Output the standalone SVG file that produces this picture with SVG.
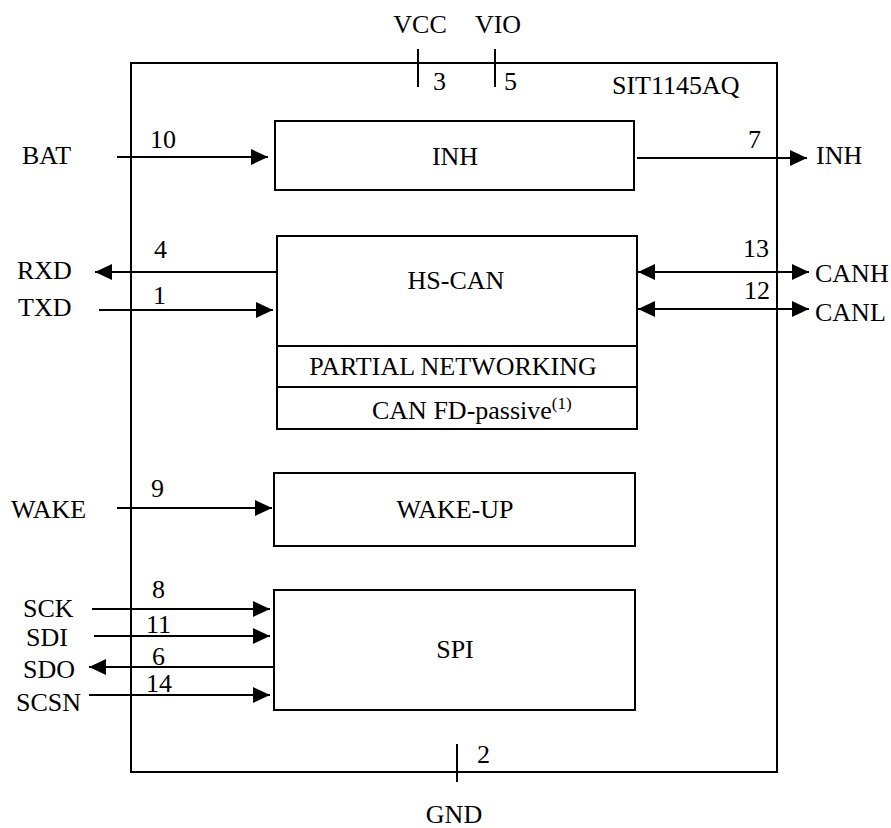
<svg xmlns="http://www.w3.org/2000/svg" width="891" height="828" viewBox="0 0 891 828">
<style>
text{font-family:"Liberation Serif","Times New Roman",serif;font-size:26px;fill:#000}
.m{text-anchor:middle}
.box{fill:none;stroke:#000;stroke-width:2}
.w{stroke:#000;stroke-width:2;fill:none}
.a{marker-end:url(#ah)}
.d{marker-start:url(#ah);marker-end:url(#ah)}
</style>
<defs>
<marker id="ah" markerUnits="userSpaceOnUse" markerWidth="17" markerHeight="16" refX="17" refY="8" orient="auto-start-reverse">
<path d="M0,0 L17,8 L0,16 Z" fill="#000"/>
</marker>
</defs>
<rect width="891" height="828" fill="#fff"/>
<g id="chip">
<rect class="box" x="131" y="63" width="646" height="709"/>
<text x="612" y="94">SIT1145AQ</text>
</g>
<g id="inh">
<rect class="box" x="275" y="121" width="359" height="69"/>
<text class="m" x="455" y="165">INH</text>
</g>
<g id="hscan">
<rect class="box" x="277" y="236" width="360" height="193"/>
<line class="w" x1="277" y1="346" x2="637" y2="346"/>
<line class="w" x1="277" y1="387" x2="637" y2="387"/>
<text class="m" x="456" y="289">HS-CAN</text>
<text class="m" x="453" y="375">PARTIAL NETWORKING</text>
<text x="372" y="419">CAN FD-passive<tspan font-size="17" dy="-10">(1)</tspan></text>
</g>
<g id="wakeup">
<rect class="box" x="274" y="473" width="361" height="73"/>
<text class="m" x="455" y="518">WAKE-UP</text>
</g>
<g id="spi">
<rect class="box" x="274" y="590" width="361" height="120"/>
<text class="m" x="455" y="658">SPI</text>
</g>
<g id="connectors">
<line class="w" x1="418" y1="49" x2="418" y2="87"/>
<line class="w" x1="495" y1="49" x2="495" y2="87"/>
<line class="w" x1="457" y1="744" x2="457" y2="782"/>
<line class="w a" x1="117" y1="157" x2="268" y2="157"/>
<line class="w a" x1="637" y1="158" x2="807" y2="158"/>
<line class="w a" x1="277" y1="272" x2="95" y2="272"/>
<line class="w a" x1="99" y1="310" x2="273" y2="310"/>
<line class="w d" x1="638" y1="272" x2="809" y2="272"/>
<line class="w d" x1="638" y1="309" x2="809" y2="309"/>
<line class="w a" x1="117" y1="508" x2="272" y2="508"/>
<line class="w a" x1="92" y1="609" x2="270" y2="609"/>
<line class="w a" x1="94" y1="636" x2="270" y2="636"/>
<line class="w a" x1="274" y1="667" x2="89" y2="667"/>
<line class="w a" x1="89" y1="695" x2="270" y2="695"/>
</g>
<g id="labels">
<text class="m" x="420" y="33">VCC</text>
<text class="m" x="498" y="33">VIO</text>
<text x="433" y="90">3</text>
<text x="504" y="90">5</text>
<text x="22" y="164">BAT</text>
<text x="150" y="148">10</text>
<text x="748" y="148">7</text>
<text x="816" y="164">INH</text>
<text x="154" y="258">4</text>
<text x="17" y="279">RXD</text>
<text x="153" y="304">1</text>
<text x="18" y="316">TXD</text>
<text x="743" y="257">13</text>
<text x="815" y="282">CANH</text>
<text x="744" y="299">12</text>
<text x="815" y="321">CANL</text>
<text x="151" y="497">9</text>
<text x="11" y="518">WAKE</text>
<text x="152" y="598">8</text>
<text x="23" y="617">SCK</text>
<text x="146" y="633">11</text>
<text x="26" y="646">SDI</text>
<text x="152" y="665">6</text>
<text x="23" y="678">SDO</text>
<text x="146" y="692">14</text>
<text x="16" y="711">SCSN</text>
<text x="477" y="763">2</text>
<text class="m" x="454" y="823">GND</text>
</g>
</svg>
